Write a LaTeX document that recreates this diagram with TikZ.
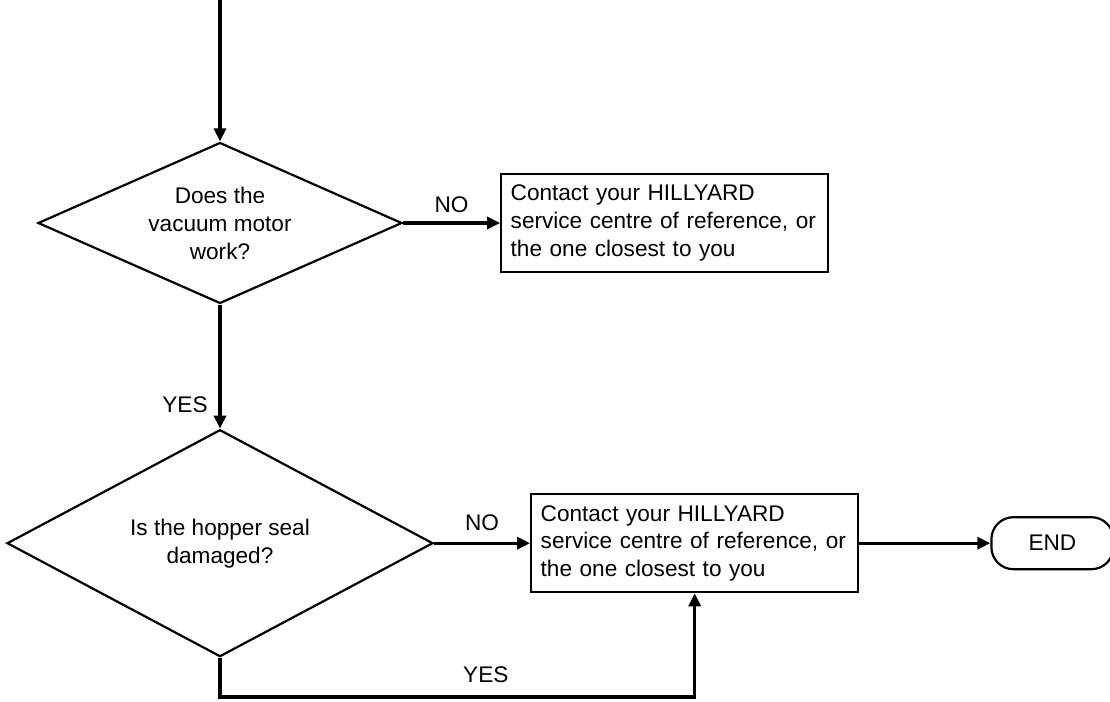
\documentclass[tikz,border=0pt]{standalone}
\usepackage{fontspec}
\setmainfont{Liberation Sans}
\usetikzlibrary{shapes.geometric,arrows.meta,positioning}

\begin{document}
\begin{tikzpicture}[x=0.5pt, y=-0.5pt,
        decision/.style={diamond, draw, line width=1.1pt, inner sep=0pt, align=center, font=\fontsize{11.3}{14}\selectfont},
        action/.style={rectangle, draw, line width=1.1pt, text width=154pt, inner xsep=4.75pt, inner ysep=0pt, align=left, minimum height=49pt, font=\fontsize{11.3}{13.8}\selectfont},
        terminal/.style={rectangle, rounded corners=11pt, draw, line width=1.1pt, minimum width=61pt, minimum height=26pt, font=\fontsize{11.3}{14}\selectfont},
        flow/.style={draw, line width=1.7pt, -{Triangle[length=6.5pt, width=6pt]}},
        answer/.style={font=\fontsize{11.3}{14}\selectfont}]

        \useasboundingbox (0,0) rectangle (1110,702);

        \coordinate (start) at (220,0);
        \node[decision, minimum width=182pt, minimum height=80.5pt, aspect=2.26] (motor) at (220,223) {Does the\\vacuum motor\\work?};
        \node[action, right=48.5pt of motor] (service1) {Contact your HILLYARD\\service centre of reference, or\\the one closest to you};
        \node[decision, below=62pt of motor, minimum width=213pt, minimum height=113.5pt, aspect=1.88] (seal) {Is the hopper seal\\damaged?};
        \node[action, right=48pt of seal] (service2) {Contact your HILLYARD\\service centre of reference, or\\the one closest to you};
        \node[terminal, right=65.5pt of service2] (end) {END};
        \coordinate (turn) at (220,697);

        \draw[flow] (start) -- (motor.north);
        \draw[flow] (motor.east) -- node[answer, above=1pt] {NO} (service1.west);
        \draw[flow] (motor.south) -- node[answer, left=2pt, pos=0.81] {YES} (seal.north);
        \draw[flow] (seal.east) -- node[answer, above=2pt] {NO} (service2.west);
        \draw[flow] (service2.east) -- (end.west);
        \draw[flow] (seal.south) -- (turn) -- node[answer, above=3pt, pos=0.56] {YES} (turn -| service2.south) -- (service2.south);

    \end{tikzpicture}
\end{document}
